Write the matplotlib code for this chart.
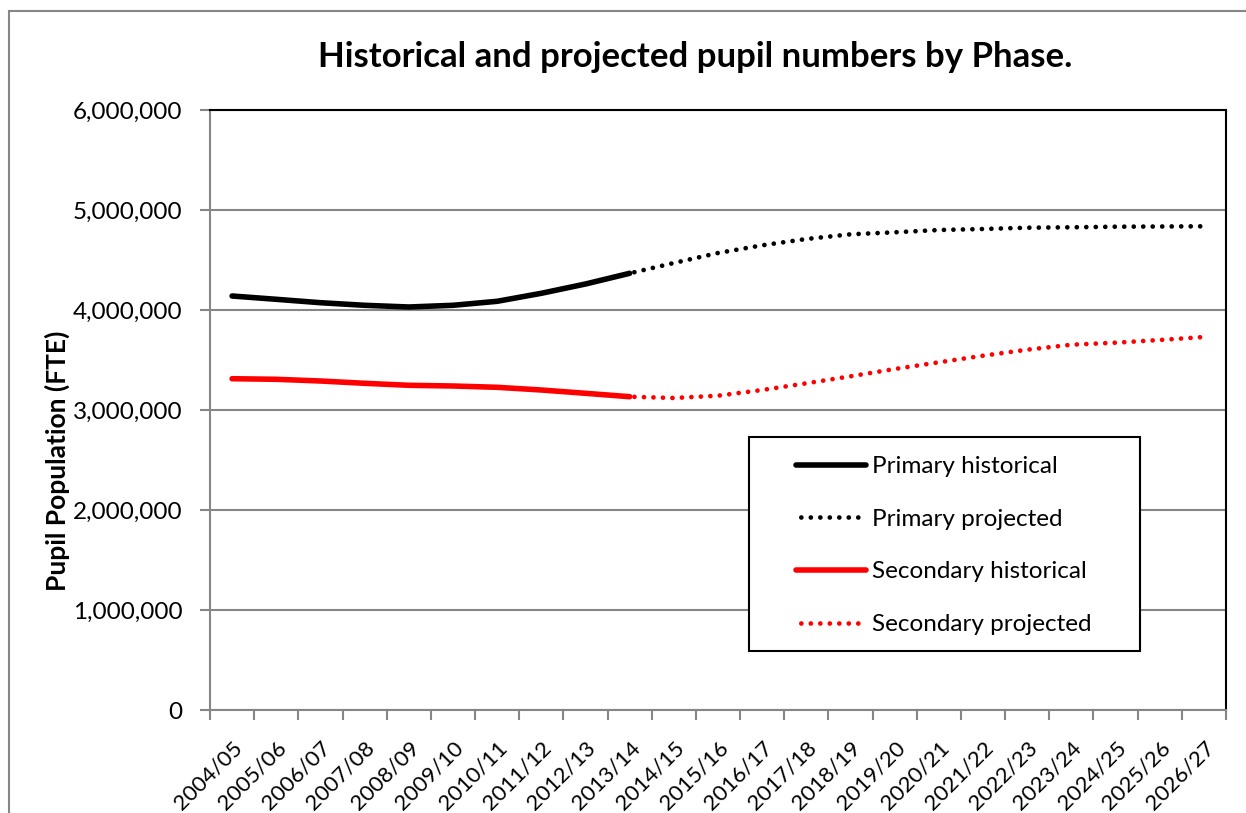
import numpy as np
import matplotlib
matplotlib.use("Agg")
from matplotlib import pyplot as plt
from matplotlib.patches import Rectangle
from matplotlib.ticker import FuncFormatter

plt.rcParams['font.family'] = ['Lato', 'DejaVu Sans']

# data
years = ["2004/05", "2005/06", "2006/07", "2007/08", "2008/09", "2009/10",
         "2010/11", "2011/12", "2012/13", "2013/14", "2014/15", "2015/16",
         "2016/17", "2017/18", "2018/19", "2019/20", "2020/21", "2021/22",
         "2022/23", "2023/24", "2024/25", "2025/26", "2026/27"]

primary_hist = [4140000, 4107000, 4073000, 4047000, 4030000, 4047000,
                4087000, 4167000, 4260000, 4367000]
secondary_hist = [3313000, 3307000, 3290000, 3267000, 3247000, 3240000,
                  3227000, 3200000, 3167000, 3133000]

# projections start from the last historical year (2013/14)
primary_proj = [4367000, 4470000, 4570000, 4647000, 4710000, 4757000,
                4777000, 4800000, 4810000, 4823000, 4827000, 4833000,
                4835000, 4837000]
secondary_proj = [3133000, 3120000, 3143000, 3200000, 3267000, 3337000,
                  3410000, 3477000, 3543000, 3603000, 3653000, 3673000,
                  3700000, 3730000]

x_all = np.arange(len(years))
x_hist = x_all[:len(primary_hist)]
x_proj = x_all[len(primary_hist) - 1:]

W, H = 1246, 813
FS = 17.5
fig = plt.figure(figsize=(W / 100, H / 100), dpi=100)
ax = fig.add_axes([210 / W, 1 - 710 / H, (1226 - 210) / W, 600 / H])

# outer chart border
fig.patches.append(Rectangle((9 / W, -0.1), 1.2, 1.1 - 11 / H, transform=fig.transFigure,
                             fill=False, edgecolor="#868686", linewidth=1.5))

ax.plot(x_hist, primary_hist, color="black", lw=4, solid_capstyle="round",
        label="Primary historical", zorder=4)
ax.plot(x_proj, primary_proj, color="black", lw=3.4, linestyle=(3, (0.01, 2.0)),
        dash_capstyle="round", label="Primary projected", zorder=3)
ax.plot(x_hist, secondary_hist, color="red", lw=4, solid_capstyle="round",
        label="Secondary historical", zorder=4)
ax.plot(x_proj, secondary_proj, color="red", lw=3.4, linestyle=(3, (0.01, 2.0)),
        dash_capstyle="round", label="Secondary projected", zorder=3)

ax.set_xlim(-0.5, len(years) - 0.5)
ax.set_ylim(0, 6000000)
ax.set_yticks(np.arange(0, 6000001, 1000000))
ax.yaxis.set_major_formatter(FuncFormatter(lambda v, p: f"{int(v):,}"))
ax.grid(axis="y", color="#868686", linewidth=1.5)
ax.set_axisbelow(True)

ax.set_xticks(np.arange(-0.5, len(years)), minor=False)
ax.set_xticklabels([])
ax.set_xticks(x_all, minor=True)
ax.set_xticklabels(years, minor=True, rotation=45, ha="right",
                   rotation_mode="anchor", fontsize=16)
ax.tick_params(axis="x", which="major", length=7, width=1.5, color="#868686")
ax.tick_params(axis="x", which="minor", length=0, pad=20)
ax.tick_params(axis="y", length=7, width=1.5, color="#868686", labelsize=FS, pad=13)

for side in ["left", "bottom"]:
    ax.spines[side].set_color("#868686")
    ax.spines[side].set_linewidth(1.5)
for side in ["top", "right"]:
    ax.spines[side].set_color("black")
    ax.spines[side].set_linewidth(1.5)

ax.set_ylabel("Pupil Population (FTE)", fontsize=19, fontweight="bold")
ax.yaxis.set_label_coords(-0.138, 0.415)
fig.text(695 / W, 1 - 57 / H, "Historical and projected pupil numbers by Phase.",
         ha="center", va="center", fontsize=25, fontweight="bold")

# legend with a separately drawn frame
ax.add_patch(Rectangle((0.531, 0.098), 0.915 - 0.531, 0.455 - 0.098, transform=ax.transAxes,
                       facecolor="white", edgecolor="black", linewidth=1.5, zorder=5))
leg = ax.legend(loc="upper left", bbox_to_anchor=(0.577, 0.423), fontsize=FS,
                frameon=False, borderpad=0, labelspacing=1.3, handlelength=2.85,
                handletextpad=0.25, borderaxespad=0)
leg.set_zorder(6)

fig.savefig("out.png", dpi=100)
